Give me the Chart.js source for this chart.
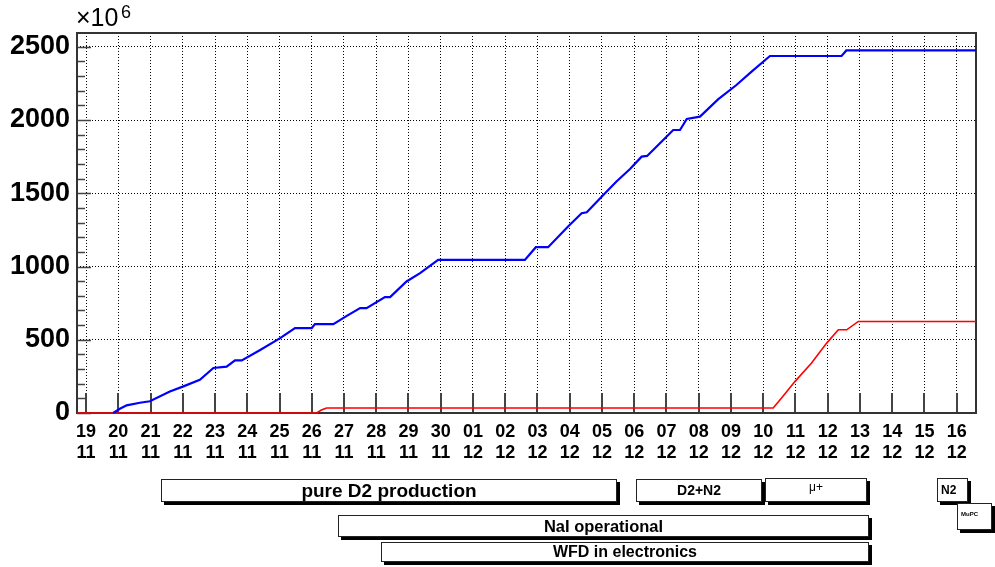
<!DOCTYPE html>
<html lang="en">
<head>
    <meta charset="UTF-8">
    <title>Cumulative events</title>
    <script src="https://cdn.jsdelivr.net/npm/chart.js"></script>
    <style>
        html, body { margin: 0; padding: 0; background: #fff; }
        body { width: 995px; height: 567px; position: relative; overflow: hidden;
               font-family: "Liberation Sans", Arial, Helvetica, sans-serif; color: #000; }
        #chart { position: absolute; left: 0; top: 0; }
        .exp { position: absolute; left: 76px; top: 3px; font-size: 25px; line-height: 28px; }
        .exp .pow { position: absolute; left: 45px; top: -5px; font-size: 18px; }
        .box { position: absolute; box-sizing: border-box; background: #fff; border: 1px solid #222;
               box-shadow: 3px 3px 0 #000; font-weight: bold; text-align: center; white-space: nowrap; }
    </style>
</head>
<body>
    <canvas id="chart" width="995" height="567"></canvas>
    <div class="exp">×10<span class="pow">6</span></div>

    <div class="box" style="left:161px; top:479px; width:456px; height:23px; font-size:19px; line-height:21px;">pure D2 production</div>
    <div class="box" style="left:636px; top:479px; width:126px; height:23px; font-size:14px; line-height:21px;">D2+N2</div>
    <div class="box" style="left:765px; top:478px; width:102px; height:24px; font-size:12px; line-height:16px; font-weight:normal;">μ+</div>
    <div class="box" style="left:937px; top:478px; width:31px; height:24px; font-size:12px; line-height:22px; text-align:left; padding-left:3px;">N2</div>
    <div class="box" style="left:957px; top:503px; width:35px; height:27px; font-size:6px; line-height:20px; text-align:left; padding-left:3px;">MuPC</div>
    <div class="box" style="left:338px; top:515px; width:531px; height:22px; font-size:16.5px; line-height:20px;">NaI operational</div>
    <div class="box" style="left:381px; top:542px; width:488px; height:20px; font-size:16px; line-height:18px;">WFD in electronics</div>

    <script>
        // day axis: 0 = 19 Nov, one tick per day
        const dayLabels = ['19','20','21','22','23','24','25','26','27','28','29','30',
                           '01','02','03','04','05','06','07','08','09','10','11','12','13','14','15','16'];
        const monthLabels = ['11','11','11','11','11','11','11','11','11','11','11','11',
                             '12','12','12','12','12','12','12','12','12','12','12','12','12','12','12','12'];
        const tickDays = dayLabels.map((d, i) => i);
        const yTicks = [0, 500, 1000, 1500, 2000, 2500];

        // blue: total (x10^6)
        const blueDays   = [0.84, 1.05, 1.26, 1.67, 1.98, 2.6, 3.0, 3.53, 3.95, 4.36, 4.62, 4.83, 5.4, 6.02, 6.48, 7.0, 7.1, 7.67,
                            8.1, 8.5, 8.7, 9.27, 9.43, 9.94, 10.36, 10.92, 13.61, 13.95, 14.33, 14.95, 15.37, 15.53,
                            15.99, 16.45, 16.87, 17.23, 17.4, 17.9, 18.21, 18.42, 18.63, 19.04, 19.6, 20.17, 20.64,
                            21.21, 23.43, 23.58, 27.6];
        const blueValues = [0, 29, 52, 70, 80, 147, 180, 227, 307, 316, 359, 359, 430, 511, 580, 580, 607, 607,
                            665, 716, 716, 791, 791, 898, 955, 1045, 1045, 1132, 1132, 1273, 1364, 1370,
                            1477, 1580, 1665, 1750, 1755, 1864, 1932, 1932, 2007, 2023, 2141, 2239, 2330,
                            2437, 2437, 2475, 2475];

        // red: second sample (x10^6)
        const redDays   = [-0.28, 7.15, 7.3, 7.46, 21.31, 21.57, 21.99, 22.5, 22.97, 23.33, 23.59, 23.95, 27.6];
        const redValues = [0, 0, 20, 34, 34, 102, 216, 341, 477, 568, 568, 625, 625];

        const toPoints = (xs, ys) => xs.map((x, i) => ({ x: x, y: ys[i] }));

        // ROOT style frame + inward tick marks
        const rootFrame = {
            id: 'rootFrame',
            beforeDatasetsDraw(chart) {
                const { ctx, chartArea: a, scales: { x, y } } = chart;
                ctx.save();
                ctx.strokeStyle = '#444';
                ctx.lineWidth = 2;
                ctx.beginPath();
                tickDays.forEach(d => {
                    const px = Math.round(x.getPixelForValue(d));
                    ctx.moveTo(px, a.bottom);
                    ctx.lineTo(px, a.bottom - 20);
                });
                ctx.stroke();
                ctx.lineWidth = 1.5;
                ctx.beginPath();
                for (let v = 0; v <= 2500; v += 100) {
                    const py = Math.round(y.getPixelForValue(v)) + 0.5;
                    const len = v % 500 === 0 ? 14 : 8;
                    ctx.moveTo(a.left, py);
                    ctx.lineTo(a.left + len, py);
                }
                ctx.stroke();
                ctx.strokeStyle = '#333';
                ctx.lineWidth = 2;
                ctx.strokeRect(a.left, a.top, a.right - a.left, a.bottom - a.top);
                ctx.restore();
            }
        };

        new Chart(document.getElementById('chart'), {
            type: 'line',
            data: {
                datasets: [
                    {
                        data: toPoints(blueDays, blueValues),
                        borderColor: '#0000ff',
                        borderWidth: 2.2,
                        pointRadius: 0,
                        tension: 0,
                        clip: false,
                    },
                    {
                        data: toPoints(redDays, redValues),
                        borderColor: '#ff0000',
                        borderWidth: 1.6,
                        pointRadius: 0,
                        tension: 0,
                        clip: false,
                    },
                ],
            },
            options: {
                responsive: false,
                animation: false,
                layout: { padding: { top: 33, right: 19, left: 0, bottom: 0 } },
                plugins: { legend: { display: false }, tooltip: { enabled: false } },
                scales: {
                    x: {
                        type: 'linear',
                        min: -0.28,
                        max: 27.6,
                        afterBuildTicks: s => { s.ticks = tickDays.map(v => ({ value: v })); },
                        afterFit: s => { s.height = 154; },
                        grid: { color: '#000', lineWidth: 1, drawTicks: false },
                        border: { display: false, dash: [1, 2] },
                        ticks: {
                            autoSkip: false,
                            maxRotation: 0,
                            padding: 8,
                            color: '#000',
                            font: { family: '"Liberation Sans", Arial, sans-serif', size: 18, weight: 'bold', lineHeight: 1.2 },
                            callback: (v, i) => [dayLabels[i], monthLabels[i]],
                        },
                    },
                    y: {
                        min: 0,
                        max: 2594,
                        afterBuildTicks: s => { s.ticks = yTicks.map(v => ({ value: v })); },
                        afterFit: s => { s.width = 77; },
                        grid: { color: '#000', lineWidth: 1, drawTicks: false },
                        border: { display: false, dash: [1, 2] },
                        ticks: {
                            padding: 7,
                            color: '#000',
                            font: { family: '"Liberation Sans", Arial, sans-serif', size: 27, weight: 'bold' },
                            callback: v => v,
                        },
                    },
                },
            },
            plugins: [rootFrame],
        });
    </script>
</body>
</html>
